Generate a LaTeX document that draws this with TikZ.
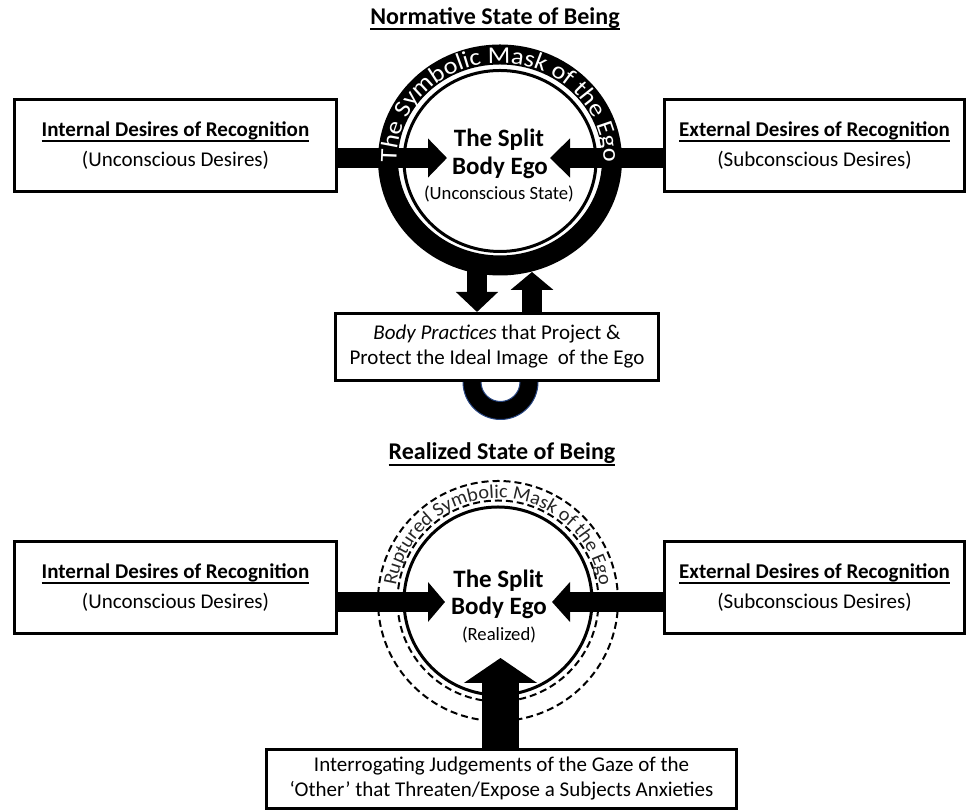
\documentclass[tikz,border=0pt]{standalone}
\usepackage{fontspec}
\setmainfont{Carlito}
\newfontfamily\ringfont[FakeStretch=1.1]{Carlito}
\newfontfamily\ringfontb[FakeStretch=1.05]{Carlito}
\usetikzlibrary{arrows.meta,decorations.text}
\newsavebox\ulbox
\newcommand\ulx[2][-4.5pt]{\sbox\ulbox{#2}\rlap{\rule[#1]{\wd\ulbox}{1.5pt}}\usebox\ulbox}
\definecolor{navyedge}{RGB}{40,70,130}
\tikzset{
  txtbox/.style={draw, line width=2.25pt, fill=white, inner sep=0pt, align=center,
    font=\fontsize{15.75pt}{22.5pt}\selectfont},
  tightbox/.style={txtbox, font=\fontsize{15.75pt}{18.75pt}\selectfont},
  blockarrow/.style n args={3}{line width=#1, -{Triangle[width=#2,length=#3]}},
  titletext/.style={anchor=base, inner sep=0pt, font=\fontsize{18pt}{22pt}\selectfont\bfseries},
  egotext/.style={anchor=base, inner sep=0pt, font=\fontsize{18.75pt}{22pt}\selectfont\bfseries},
  egosub/.style={anchor=base, inner sep=0pt, font=\fontsize{14pt}{17pt}\selectfont},
  dashring/.style={line width=1.5pt, dash pattern=on 5.25pt off 3pt},
}
\begin{document}
\begin{tikzpicture}[x=0.75pt,y=0.75pt]
\useasboundingbox (0,0) rectangle (968,812);
% ---------------- Top section ----------------
\node[titletext] (title1) at (495,787) {\ulx[-4pt]{Normative State of Being}};
\coordinate (c1) at (500,652);
\coordinate (c1b) at (500,651);
\draw[line width=15pt] (c1) ellipse[x radius=112, y radius=105.5];
\draw[line width=2.25pt] (c1b) ellipse[x radius=96, y radius=90.5];
\node[txtbox, minimum width=241.5pt, minimum height=69pt] (lbox1) at (175.5,666.5)
  {\textbf{\ulx{Internal Desires of Recognition}}\\(Unconscious Desires)};
\node[txtbox, minimum width=225pt, minimum height=69pt] (rbox1) at (814.5,666.5)
  {\textbf{\ulx{External Desires of Recognition}}\\(Subconscious Desires)};
% small U ring below practices box
\coordinate (r2) at (500.5,430);
\draw[line width=13.5pt] (r2) circle[radius=28.5];
\draw[navyedge, line width=0.75pt] (r2) circle[radius=37.5] (r2) circle[radius=19.5];
\node[tightbox, minimum width=242.25pt, minimum height=50.25pt] (bp) at (497,465)
  {\textit{Body Practices} that Project \&\\Protect the Ideal Image\ \ of the Ego};
% arrows
\coordinate (t1) at (447,654);
\coordinate (t2) at (550,654);
\draw[blockarrow={15pt}{28.5pt}{14.25pt}] (lbox1.east |- t1) -- (t1);
\draw[blockarrow={15pt}{28.5pt}{15pt}] (rbox1.west |- t2) -- (t2);
\coordinate (d1) at (477,544);
\coordinate (u1) at (532,540);
\draw[blockarrow={15pt}{30.75pt}{15pt}] (d1) -- (bp.north -| d1);
\draw[blockarrow={15pt}{31.5pt}{13.5pt}] (bp.north -| u1) -- (u1);
% ring text
\path[decorate, decoration={text along path, text align=center, text color=white,
  text={|\ringfont\fontsize{18pt}{21pt}\selectfont|The Symbolic Mask of the Ego}}]
  (c1) ++(181:103.5 and 97) arc[start angle=181, end angle=-1, x radius=103.5, y radius=97];
\node[egotext] (ego1a) at (499,665) {The Split};
\node[egotext] (ego1b) at (500,637) {Body Ego};
\node[egosub] (ego1c) at (499,612) {(Unconscious State)};
% ---------------- Bottom section ----------------
\node[titletext] (title2) at (502,352) {\ulx{Realized State of Being}};
\coordinate (c2) at (498,211);
\draw[dashring] (c2) circle[radius=120];
\draw[dashring] (c2) circle[radius=100.5];
\draw[line width=2.25pt] (c2) circle[radius=94];
\path[decorate, decoration={text along path, text align=center, text color=black!85,
  text={|\ringfontb\fontsize{14.5pt}{17pt}\selectfont|Ruptured Symbolic Mask of the Ego}}]
  (c2) ++(171:103) arc[start angle=171, end angle=9, radius=103];
\node[txtbox, minimum width=241.5pt, minimum height=69pt] (lbox2) at (175.5,224.5)
  {\textbf{\ulx{Internal Desires of Recognition}}\\(Unconscious Desires)};
\node[txtbox, minimum width=225pt, minimum height=69pt] (rbox2) at (814.5,224.5)
  {\textbf{\ulx{External Desires of Recognition}}\\(Subconscious Desires)};
\node[tightbox, minimum width=352.5pt, minimum height=44.25pt] (gbox) at (501.5,33)
  {Interrogating Judgements of the Gaze of the\\‘Other’ that Threaten/Expose a Subjects Anxieties};
\coordinate (t3) at (445,210);
\coordinate (t4) at (552,210);
\coordinate (t5) at (500.5,154);
\draw[blockarrow={15pt}{29.25pt}{12.75pt}] (lbox2.east |- t3) -- (t3);
\draw[blockarrow={15pt}{29.25pt}{13.5pt}] (rbox2.west |- t4) -- (t4);
\draw[blockarrow={27.75pt}{54pt}{18.75pt}] (gbox.north -| t5) -- (t5);
\node[egotext] (ego2a) at (498.5,224) {The Split};
\node[egotext] (ego2b) at (499,197) {Body Ego};
\node[egosub] (ego2c) at (499,171) {(Realized)};
\end{tikzpicture}
\end{document}
